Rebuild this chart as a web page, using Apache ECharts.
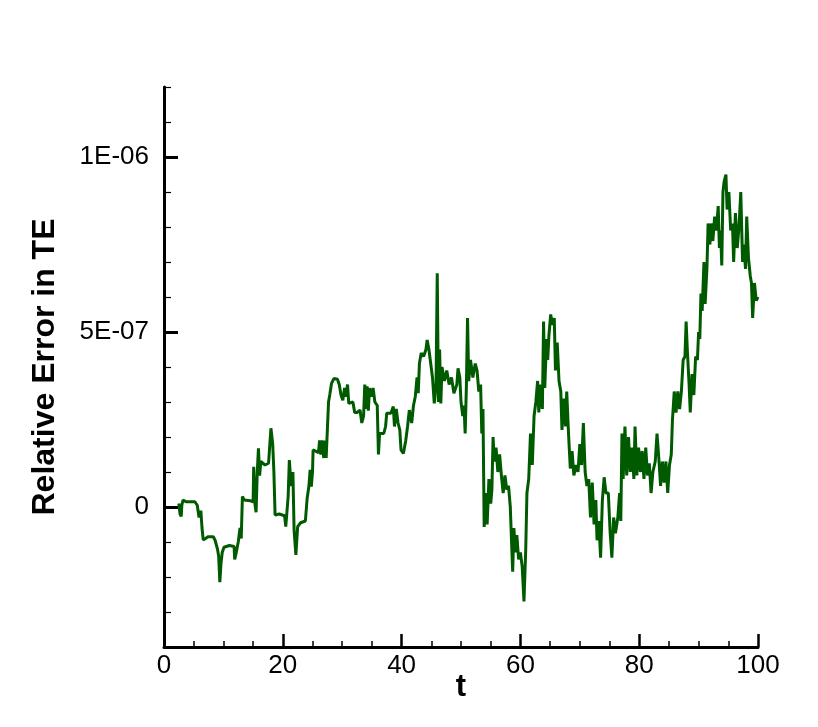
<!DOCTYPE html>
<html>
<head>
<meta charset="utf-8">
<script src="https://cdn.jsdelivr.net/npm/echarts@6/dist/echarts.min.js"></script>
<style>
    html, body { margin: 0; padding: 0; background: #fff; }
    #chart { width: 818px; height: 727px; }
</style>
</head>
<body>
<div id="chart"></div>
<script>
    // y values are in units of 1E-07
    const yTickValues = [0, 5, 10];
    const yTickLabels = ['0', '5E-07', '1E-06'];
    const xTickLabels = ['0', '20', '40', '60', '80', '100'];

    // [t, relative error / 1E-07]
    const errorSeries = [
        [2.5, 0.1], [2.7, -0.2], [2.9, -0.27], [3.0, 0.05], [3.2, 0.2], [3.5, 0.22], [3.7, 0.15],
        [5.2, 0.15], [5.6, 0.05], [5.9, -0.3], [6.2, -0.1], [6.4, -0.6], [6.6, -0.94], [7.0, -0.9],
        [7.4, -0.85], [8.3, -0.85], [8.6, -0.95], [9.0, -1.2], [9.2, -1.4], [9.4, -2.15], [9.6, -1.6],
        [9.8, -1.3], [10.1, -1.15], [11.0, -1.1], [11.8, -1.13], [11.9, -1.5], [12.1, -1.35], [12.5, -1.0],
        [12.8, -0.6], [13.0, -0.9], [13.2, 0.3], [13.5, 0.2], [14.5, 0.18], [15.0, 0.15], [15.1, 1.15],
        [15.3, 0.1], [15.5, -0.15], [15.7, 1.0], [15.9, 1.68], [16.1, 0.9], [16.3, 1.3], [17.0, 1.2],
        [17.6, 1.25], [17.9, 1.2], [18.0, 2.25], [18.3, 1.8], [18.5, 1.0], [18.7, -0.23], [19.4, -0.2],
        [20.3, -0.25], [20.5, -0.56], [20.9, 0.3], [21.1, 1.34], [21.4, 0.6], [21.7, 1.0], [21.9, -0.66],
        [22.2, -1.37], [22.5, -0.56], [23.0, -0.45], [23.8, -0.4], [24.1, 0.25], [24.4, 0.6], [24.6, 1.06],
        [24.8, 0.58], [25.0, 1.0], [25.1, 1.63], [25.5, 1.6], [26.0, 1.55], [26.2, 1.9], [26.4, 1.5],
        [26.6, 1.9], [26.9, 1.4], [27.1, 1.9], [27.3, 1.4], [27.5, 2.2], [27.7, 3.0], [27.9, 3.2],
        [28.2, 3.53], [28.6, 3.67], [29.2, 3.65], [29.5, 3.5], [29.8, 3.2], [30.1, 3.05], [30.4, 3.4],
        [30.6, 3.15], [30.9, 3.5], [31.1, 2.96], [31.4, 3.0], [31.8, 3.0], [32.1, 2.7], [32.5, 2.7],
        [33.0, 2.77], [33.3, 2.4], [33.6, 2.6], [33.8, 3.5], [34.0, 2.8], [34.2, 3.45], [34.4, 2.75],
        [34.6, 3.4], [34.9, 3.15], [35.2, 3.4], [35.5, 3.0], [35.9, 2.9], [36.1, 1.5], [36.3, 2.1],
        [37.0, 2.1], [37.3, 2.3], [37.5, 2.68], [38.2, 2.68], [38.6, 2.87], [38.8, 2.3], [39.1, 2.8],
        [39.4, 2.4], [39.7, 2.2], [39.9, 1.63], [40.3, 1.53], [40.7, 1.9], [41.0, 2.3], [41.3, 2.77],
        [41.7, 2.4], [42.0, 2.9], [42.3, 3.15], [42.6, 3.7], [42.8, 3.25], [43.0, 4.1], [43.3, 4.4],
        [43.7, 4.3], [44.1, 4.5], [44.3, 4.77], [44.6, 4.5], [44.9, 4.1], [45.2, 3.7], [45.5, 2.96],
        [45.8, 3.5], [46.0, 6.68], [46.2, 3.0], [46.4, 4.5], [46.6, 2.96], [46.8, 4.0], [47.2, 3.6],
        [47.6, 3.9], [48.0, 3.5], [48.4, 3.7], [48.8, 3.25], [49.3, 3.5], [49.5, 3.96], [49.8, 3.7],
        [50.0, 3.0], [50.3, 2.6], [50.5, 2.9], [50.7, 2.1], [50.9, 3.4], [51.1, 5.4], [51.3, 3.6],
        [51.6, 4.2], [52.0, 3.7], [52.4, 4.1], [52.7, 3.9], [53.0, 3.3], [53.3, 3.5], [53.5, 2.1],
        [53.7, 2.8], [53.9, -0.57], [54.2, 0.4], [54.4, -0.5], [54.7, 0.8], [55.0, 0.1], [55.2, 0.5],
        [55.4, 2.0], [55.6, 1.3], [55.9, 1.7], [56.2, 1.0], [56.5, 1.5], [56.8, 0.9], [57.1, 0.4],
        [57.4, 0.9], [57.7, 0.5], [58.0, 0.6], [58.3, 0.0], [58.5, -0.95], [58.7, -1.85], [58.9, -0.6],
        [59.2, -1.3], [59.4, -0.8], [59.7, -1.5], [60.0, -1.3], [60.3, -1.7], [60.6, -2.7], [60.9, -1.2],
        [61.1, 0.4], [61.4, 0.8], [61.7, 2.1], [62.0, 1.2], [62.3, 2.6], [62.6, 3.0], [62.9, 3.6],
        [63.1, 2.7], [63.4, 3.5], [63.7, 2.8], [63.9, 5.3], [64.1, 3.4], [64.4, 4.8], [64.6, 4.2],
        [64.8, 4.9], [65.1, 5.5], [65.4, 5.2], [65.7, 5.4], [65.9, 3.9], [66.2, 4.7], [66.5, 3.6],
        [66.8, 3.3], [67.0, 2.2], [67.3, 3.1], [67.6, 2.3], [67.8, 3.3], [68.1, 2.1], [68.4, 1.1],
        [68.7, 1.6], [69.0, 0.9], [69.4, 1.2], [69.7, 1.0], [70.0, 1.8], [70.3, 1.2], [70.6, 2.4],
        [70.9, 1.0], [71.2, 0.6], [71.5, 0.8], [71.8, -0.3], [72.1, 0.7], [72.4, -0.5], [72.7, 0.2],
        [72.9, -0.95], [73.2, -0.4], [73.5, -1.45], [73.8, 0.2], [74.1, 0.85], [74.4, 0.4], [74.8, 0.4],
        [75.1, -0.7], [75.4, -1.45], [75.7, -0.3], [76.0, -0.75], [76.4, -0.3], [76.7, 0.4], [76.9, -0.4],
        [77.1, 2.1], [77.3, 0.8], [77.6, 2.3], [77.9, 0.9], [78.2, 2.0], [78.5, 1.0], [78.8, 1.7],
        [79.1, 0.8], [79.3, 2.3], [79.6, 0.9], [79.9, 1.7], [80.2, 1.0], [80.5, 1.6], [80.8, 0.8],
        [81.1, 1.7], [81.4, 0.9], [81.7, 1.25], [82.0, 0.4], [82.3, 1.0], [82.7, 1.3], [83.0, 2.1],
        [83.3, 1.4], [83.6, 0.6], [83.9, 1.3], [84.2, 0.7], [84.5, 1.3], [84.8, 0.4], [85.1, 1.2],
        [85.4, 1.5], [85.6, 2.5], [85.9, 3.3], [86.2, 2.7], [86.5, 3.3], [86.8, 2.8], [87.1, 3.3],
        [87.4, 4.2], [87.7, 4.3], [87.9, 5.3], [88.1, 4.5], [88.4, 3.5], [88.6, 2.7], [88.9, 3.8],
        [89.2, 3.2], [89.5, 4.3], [89.8, 4.2], [90.0, 5.0], [90.2, 4.8], [90.4, 6.1], [90.6, 5.6],
        [90.9, 7.0], [91.1, 5.8], [91.4, 6.8], [91.6, 8.1], [91.9, 7.5], [92.1, 8.1], [92.4, 7.6],
        [92.7, 8.3], [93.0, 7.9], [93.3, 8.6], [93.5, 7.4], [93.7, 7.9], [93.9, 6.9], [94.1, 9.0],
        [94.3, 9.3], [94.6, 9.5], [94.8, 8.5], [95.1, 9.0], [95.4, 7.9], [95.7, 8.1], [95.9, 7.0],
        [96.2, 8.4], [96.5, 7.4], [96.8, 8.0], [97.1, 9.0], [97.4, 7.0], [97.6, 7.5], [97.9, 6.8],
        [98.1, 8.3], [98.4, 7.1], [98.7, 6.6], [98.9, 6.4], [99.1, 5.4], [99.4, 6.4], [99.7, 5.9],
        [100.0, 6.0]
    ];

    const font = "'Liberation Sans', Arial, sans-serif";
    const black = '#000';

    let chart = echarts.init(document.getElementById('chart'));
    chart.setOption({
        animation: false,
        backgroundColor: '#fff',
        textStyle: {fontFamily: font, color: black},
        grid: [
            {left: 164, right: 60, top: 87, bottom: 80},
            // second grid only carries the long ticks and labels at 0, 5E-07, 1E-06
            {left: 164, right: 60, top: 157, height: 350}
        ],
        xAxis: [
            {
                gridIndex: 0,
                type: 'value',
                min: 0,
                max: 100,
                interval: 20,
                name: 't',
                nameLocation: 'middle',
                nameGap: 25,
                nameMoveOverlap: false,
                nameTextStyle: {fontSize: 31, fontWeight: 'bold', color: black, fontFamily: font},
                axisLine: {onZero: false, lineStyle: {color: black, width: 3}},
                axisTick: {inside: true, length: 13, lineStyle: {color: black, width: 2.5}},
                minorTick: {show: true, splitNumber: 4, length: 6, lineStyle: {color: black, width: 1.5}},
                axisLabel: {
                    fontSize: 26, color: black, fontFamily: font, margin: 6,
                    formatter: (v) => xTickLabels[Math.round(v / 20)]
                },
                splitLine: {show: false},
                minorSplitLine: {show: false}
            },
            {gridIndex: 1, type: 'value', min: 0, max: 100, show: false}
        ],
        yAxis: [
            {
                gridIndex: 0,
                type: 'value',
                min: -4,
                max: 12,
                interval: 1,
                name: 'Relative Error in TE',
                nameLocation: 'middle',
                nameGap: 103,
                nameMoveOverlap: false,
                nameTextStyle: {fontSize: 32, fontWeight: 'bold', color: black, fontFamily: font},
                axisLine: {onZero: false, lineStyle: {color: black, width: 3}},
                axisTick: {inside: true, length: 7, lineStyle: {color: black, width: 1.2}},
                axisLabel: {show: false},
                splitLine: {show: false}
            },
            {
                gridIndex: 1,
                type: 'value',
                min: 0,
                max: 10,
                interval: 5,
                axisLine: {show: false},
                axisTick: {inside: true, length: 14, lineStyle: {color: black, width: 3}},
                axisLabel: {
                    fontSize: 26, color: black, fontFamily: font, margin: 15,
                    formatter: (v) => yTickLabels[yTickValues.indexOf(v)]
                },
                splitLine: {show: false}
            }
        ],
        series: [
            {
                name: 'Relative Error in TE',
                type: 'line',
                xAxisIndex: 0,
                yAxisIndex: 0,
                showSymbol: false,
                lineStyle: {color: '#005a00', width: 3},
                data: errorSeries
            }
        ]
    });
</script>
</body>
</html>
